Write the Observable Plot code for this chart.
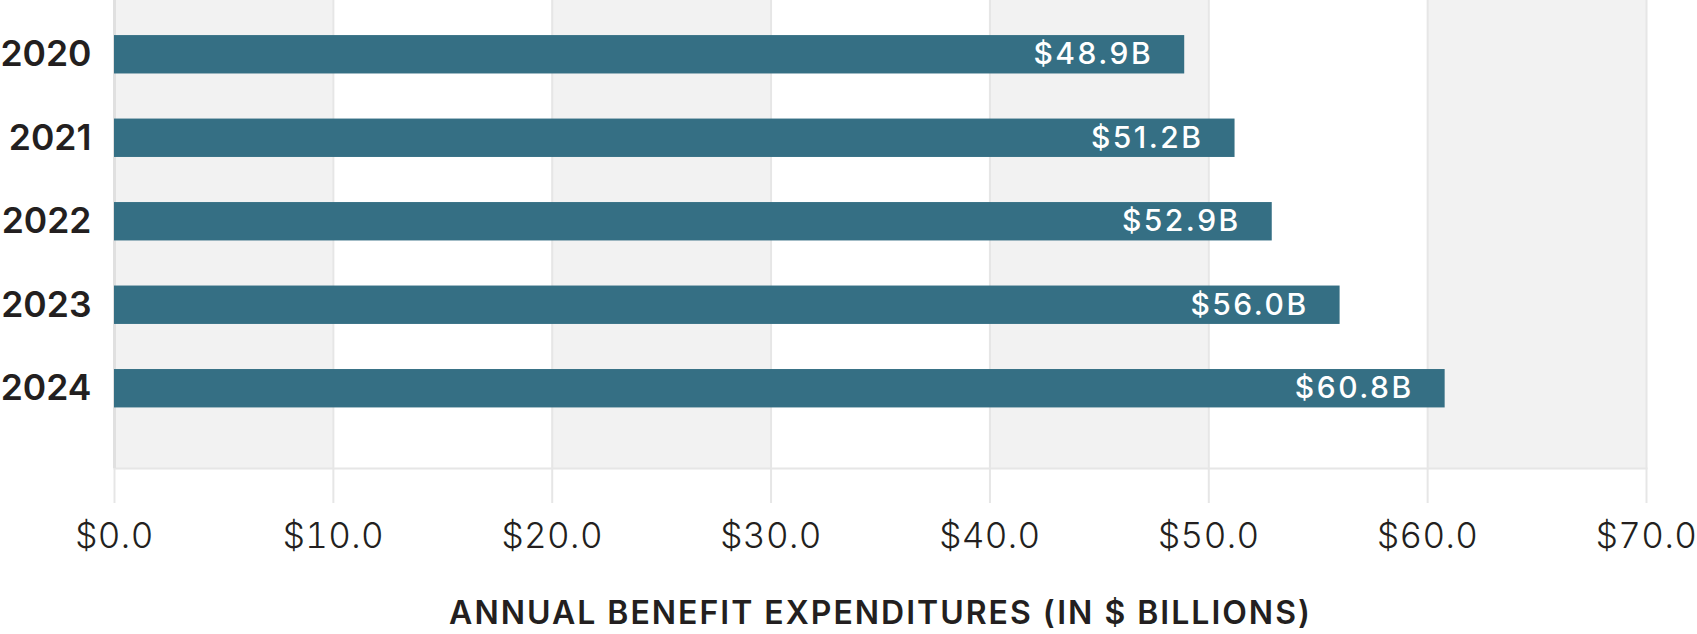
<!DOCTYPE html>
<html>
<head>
<meta charset="utf-8">
<script src="https://cdn.jsdelivr.net/npm/d3@7"></script>
<script src="https://cdn.jsdelivr.net/npm/@observablehq/plot@0.6"></script>
<style>
  html, body { margin: 0; padding: 0; background: #ffffff; }
  #chart svg { display: block; }
  g[aria-label="x-axis tick label"] text { letter-spacing: 0.4px; }
</style>
</head>
<body>
<div id="chart"></div>
<script>
const years = ["2020", "2021", "2022", "2023", "2024"];
const values = [48.9, 51.2, 52.9, 56.0, 60.8];
const valueLabels = ["$48.9B", "$51.2B", "$52.9B", "$56.0B", "$60.8B"];
const xTicks = [0, 10, 20, 30, 40, 50, 60, 70];
const xTickLabels = ["$0.0", "$10.0", "$20.0", "$30.0", "$40.0", "$50.0", "$60.0", "$70.0"];
const stripeStarts = [0, 20, 40, 60];
const stripeEnds = [10, 30, 50, 70];
const axisTitle = "ANNUAL BENEFIT EXPENDITURES (IN $ BILLIONS)";

const rows = years.map((y, i) => ({year: y, value: values[i], label: valueLabels[i]}));
const stripes = stripeStarts.map((s, i) => ({x1: s, x2: stripeEnds[i]}));

const textColor = "#231f20";
const gridColor = "#e6e6e6";

const chart = Plot.plot({
  width: 1697,
  height: 634,
  marginLeft: 114,
  marginRight: 51,
  marginTop: 0,
  marginBottom: 166,
  style: {fontFamily: "Inter, 'Open Sans', sans-serif", color: textColor, background: "#ffffff"},
  x: {domain: [0, 70], label: null},
  y: {domain: years, range: [0, 442.5], paddingInner: 0.54, paddingOuter: 0.42, round: false, label: null},
  marks: [
    Plot.rect(stripes, {x1: "x1", x2: "x2", fill: "#f2f2f2"}),
    Plot.ruleX(xTicks, {stroke: gridColor, strokeWidth: 2}),
    Plot.frame({anchor: "bottom", stroke: gridColor, strokeWidth: 2}),
    Plot.ruleX([0], {stroke: "#e0e0e0", strokeWidth: 3}),
    Plot.axisX({
      ticks: xTicks,
      tickFormat: (d) => xTickLabels[xTicks.indexOf(d)],
      tickSize: 35,
      tickPadding: 20,
      stroke: gridColor,
      strokeWidth: 2,
      fill: textColor,
      fontSize: 35,
      fontWeight: 300,
      label: null
    }),
    Plot.axisY({
      tickSize: 0,
      tickPadding: 23,
      fill: textColor,
      fontSize: 35.5,
      fontWeight: 600,
      label: null
    }),
    Plot.barX(rows, {x: "value", y: "year", fill: "#356f84"}),
    Plot.text(rows, {
      x: "value", y: "year", text: "label",
      textAnchor: "end", dx: -31.5,
      fill: "#ffffff", fontSize: 30, fontWeight: 500
    }),
    Plot.text([axisTitle], {
      frameAnchor: "bottom", dy: 145, lineAnchor: "middle",
      text: (d) => d, fill: textColor, fontSize: 32, fontWeight: 600
    })
  ]
});
d3.select(chart).selectAll("text").each(function () {
  const t = this.textContent;
  if (valueLabels.includes(t)) this.style.letterSpacing = "2.5px";
  if (t === axisTitle) this.style.letterSpacing = "2px";
});
document.getElementById("chart").appendChild(chart);
</script>
</body>
</html>
